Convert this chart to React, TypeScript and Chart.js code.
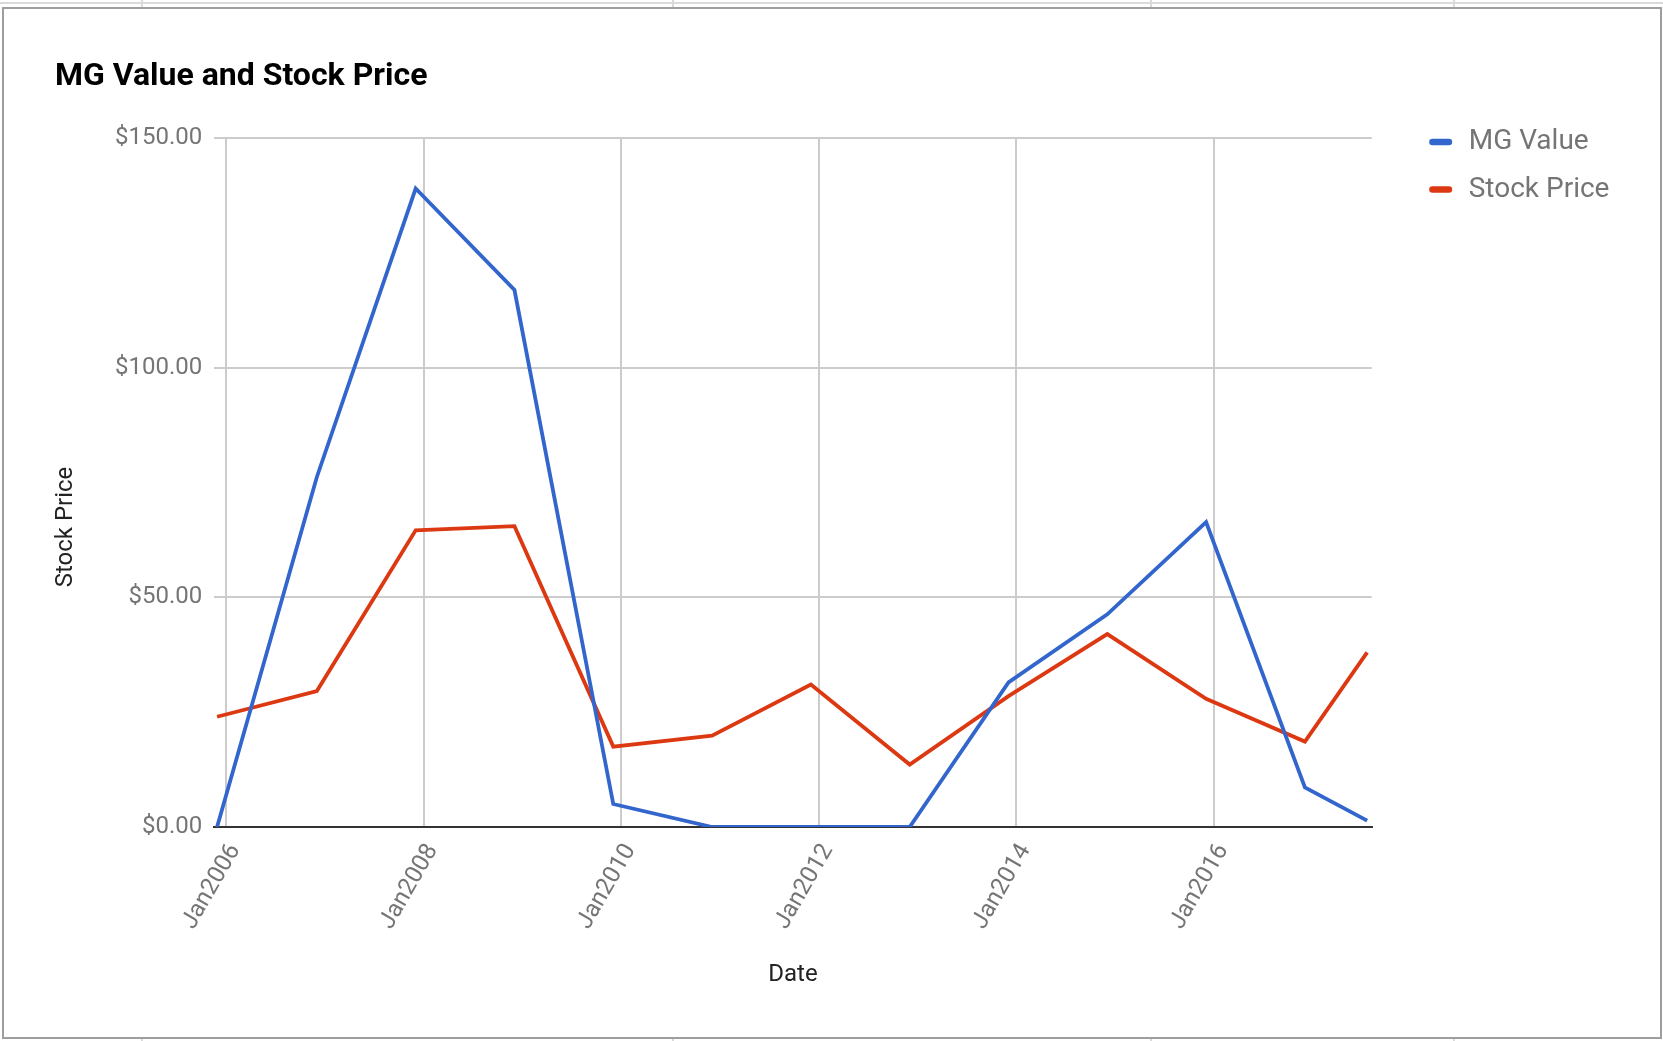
import React, { useEffect, useRef } from "react";
import { Chart, registerables } from "chart.js";

Chart.register(...registerables);

// ---- data ----
const dates = [2005.91, 2006.92, 2007.92, 2008.92, 2009.92, 2010.92, 2011.92, 2012.92, 2013.92, 2014.92, 2015.92, 2016.92, 2017.55];
const mgValue = [0, 76.2, 139.0, 116.9, 5.0, 0, 0, 0, 31.5, 46.3, 66.4, 8.6, 1.4];
const stockPrice = [24.0, 29.6, 64.6, 65.5, 17.5, 19.9, 31.0, 13.6, 28.5, 42.0, 27.9, 18.6, 38.0];
const tickYears = [2006, 2008, 2010, 2012, 2014, 2016];
const yTicks = [0, 50, 100, 150];
const seriesNames = ["MG Value", "Stock Price"];
const seriesColors = ["#3366cc", "#dc3912"];
const chartTitle = "MG Value and Stock Price";
const xTitle = "Date";
const yTitle = "Stock Price";
const xMin = 2005.882;
const xMax = 2017.596;

const W = 1663;
const H = 1041;

const overlayPlugin = {
  id: "overlay",
  afterDraw(chart: any) {
    const ctx = chart.ctx;
    const area = chart.chartArea;
    ctx.save();
    // y-axis title
    ctx.fillStyle = "#222222";
    ctx.font = "24px Roboto";
    ctx.textAlign = "center";
    ctx.textBaseline = "middle";
    ctx.translate(66, 527);
    ctx.rotate(-Math.PI / 2);
    ctx.fillText(yTitle, 0, 0);
    ctx.restore();

    // legend
    ctx.save();
    chart.data.datasets.forEach((ds: any, i: number) => {
      const cy = area.top + 4 + i * 47.5;
      const bx = area.right + 57.5;
      const bw = 23;
      const bh = 6.5;
      ctx.fillStyle = ds.borderColor;
      ctx.beginPath();
      (ctx as any).roundRect(bx, cy - bh / 2, bw, bh, bh / 2);
      ctx.fill();
      ctx.fillStyle = "#757575";
      ctx.font = "28px Roboto";
      ctx.textAlign = "left";
      ctx.textBaseline = "middle";
      ctx.fillText(ds.label, bx + 39.5, cy);
    });
    ctx.restore();
  },
};

export default function App() {
  const canvasRef = useRef<HTMLCanvasElement | null>(null);

  useEffect(() => {
    document.body.style.margin = "0";
    const canvas = canvasRef.current;
    if (!canvas) return;
    Chart.defaults.font.family = "Roboto";

    const chart = new Chart(canvas, {
      type: "line",
      data: {
        datasets: [
          {
            label: seriesNames[0],
            data: dates.map((d, i) => ({ x: d, y: mgValue[i] })),
            borderColor: seriesColors[0],
            backgroundColor: seriesColors[0],
            borderWidth: 3.8,
            pointRadius: 0,
            tension: 0,
          },
          {
            label: seriesNames[1],
            data: dates.map((d, i) => ({ x: d, y: stockPrice[i] })),
            borderColor: seriesColors[1],
            backgroundColor: seriesColors[1],
            borderWidth: 3.8,
            pointRadius: 0,
            tension: 0,
          },
        ],
      },
      options: {
        animation: false,
        responsive: false,
        devicePixelRatio: 1,
        layout: { padding: { left: 55, right: 291.3, top: 0, bottom: 0 } },
        plugins: {
          legend: { display: false },
          tooltip: { enabled: false },
          title: {
            display: true,
            text: chartTitle,
            align: "start",
            color: "#000000",
            font: { family: "Roboto", size: 32, weight: "bold", lineHeight: 1.2 },
            padding: { top: 58, bottom: 41.6 },
          },
        },
        scales: {
          x: {
            type: "linear",
            min: xMin,
            max: xMax,
            afterBuildTicks: (s: any) => {
              s.ticks = tickYears.map((v) => ({ value: v }));
            },
            afterFit: (s: any) => {
              s.height = 214;
            },
            grid: { color: "#cccccc", lineWidth: 2, drawTicks: false },
            border: { display: true, color: "#333333", width: 2 },
            ticks: {
              autoSkip: false,
              minRotation: 60,
              maxRotation: 60,
              padding: 12,
              labelOffset: 9,
              color: "#757575",
              font: { size: 24, lineHeight: 1.2 },
              callback: (v: any) => "Jan" + v,
            },
            title: {
              display: true,
              text: xTitle,
              color: "#222222",
              font: { size: 24 },
              padding: { top: 0, bottom: 52 },
            },
          },
          y: {
            min: 0,
            max: 150,
            afterBuildTicks: (s: any) => {
              s.ticks = yTicks.map((v) => ({ value: v }));
            },
            afterFit: (s: any) => {
              s.width = 159.3;
            },
            grid: { color: "#cccccc", lineWidth: 2, drawTicks: false },
            border: { display: false },
            ticks: {
              padding: 12,
              color: "#757575",
              font: { size: 24 },
              callback: (v: any) => "$" + Number(v).toFixed(2),
            },
          },
        },
      } as any,
      plugins: [overlayPlugin],
    });

    if ((document as any).fonts && (document as any).fonts.ready) {
      (document as any).fonts.ready.then(() => chart.update());
    }

    return () => {
      chart.destroy();
    };
  }, []);

  const vline = (x: number, top: number, h: number) => (
    <div style={{ position: "absolute", left: x, top, width: 2, height: h, background: "#dadada" }} />
  );

  return (
    <div style={{ position: "absolute", left: 0, top: 0, width: W, height: H, background: "#fff", overflow: "hidden" }}>
      <div style={{ position: "absolute", left: 0, top: 2, width: W, height: 2, background: "#dadada" }} />
      {vline(141, 0, 7)}
      {vline(672, 0, 7)}
      {vline(1150, 0, 7)}
      {vline(1453, 0, 7)}
      {vline(141, 1038, 3)}
      {vline(672, 1038, 3)}
      {vline(1150, 1038, 3)}
      {vline(1453, 1038, 3)}
      <div
        style={{
          position: "absolute",
          left: 2,
          top: 7,
          width: 1660,
          height: 1032,
          boxSizing: "border-box",
          border: "2px solid #9e9e9e",
          background: "#fff",
        }}
      />
      <canvas ref={canvasRef} width={W} height={H} style={{ position: "absolute", left: 0, top: 0, width: W, height: H }} />
    </div>
  );
}
